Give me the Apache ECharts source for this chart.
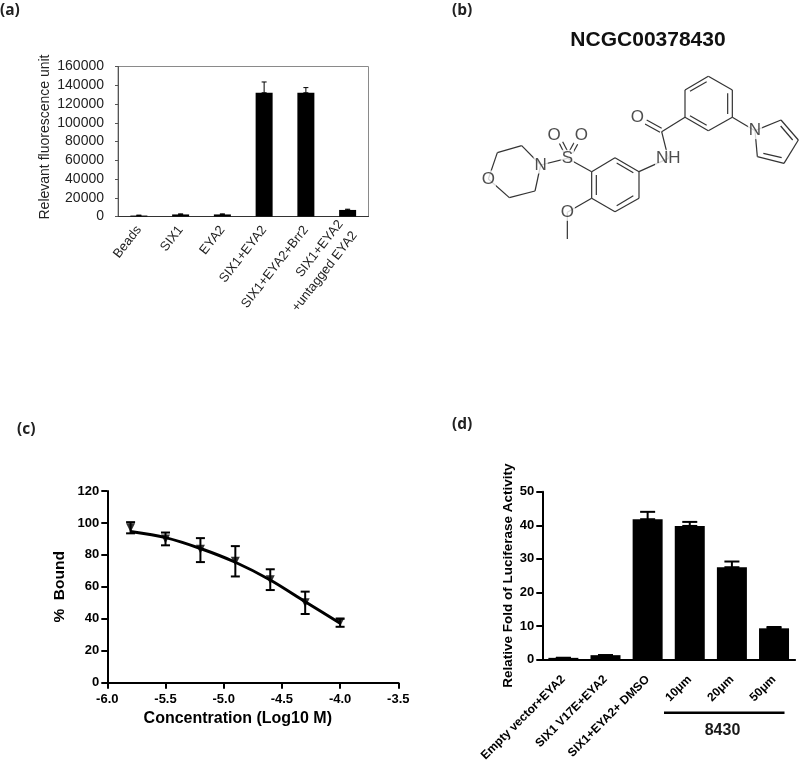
<!DOCTYPE html>
<html>
<head>
<meta charset="utf-8">
<style>
  html, body { margin: 0; padding: 0; background: #fff; }
  #main { width: 800px; height: 764px; }
</style>
<script src="https://cdn.jsdelivr.net/npm/echarts@6/dist/echarts.min.js"></script>
</head>
<body>
<div id="main"></div>
<script>
// panel a
const aCategories = ["Beads", "SIX1", "EYA2", "SIX1+EYA2", "SIX1+EYA2+Brr2", "SIX1+EYA2\n+untagged EYA2"];
const aValues = [1000, 2200, 2200, 132000, 132000, 7000];
const aErrHigh = [1500, 2800, 2800, 143500, 137500, 7800];

// panel b: structure drawn on a plain hidden grid
const atomNames = ["O", "N", "S", "O", "O", "O", "NH", "O", "N"];
const atomX = [205, 362, 442, 402, 484, 442, 745, 652, 1005];
const atomY = [537, 495, 475, 405, 405, 637, 475, 352, 392];
const bondSegments = [
  [205, 537, 232, 458], [232, 458, 305, 437], [305, 437, 362, 495],
  [362, 495, 345, 573], [345, 573, 268, 593], [268, 593, 205, 537],
  [362, 495, 442, 475],
  [418, 430, 432, 458], [428, 425, 442, 452],
  [447, 455, 462, 428], [458, 460, 473, 433],
  [442, 475, 515, 515],
  [515, 515, 585, 473], [585, 473, 657, 515], [657, 515, 657, 595],
  [657, 595, 585, 635], [585, 635, 515, 595], [515, 595, 515, 515],
  [529, 525, 529, 585], [590, 489, 640, 518], [640, 587, 590, 617],
  [515, 595, 442, 637], [442, 637, 442, 717],
  [657, 515, 745, 475], [745, 475, 725, 395],
  [680, 360, 725, 385], [675, 372, 720, 397],
  [725, 395, 795, 352],
  [795, 352, 795, 270], [795, 270, 865, 229], [865, 229, 937, 270],
  [937, 270, 937, 352], [937, 352, 865, 392], [865, 392, 795, 352],
  [810, 274, 860, 245], [923, 280, 923, 342], [860, 376, 810, 347],
  [937, 352, 1005, 392],
  [1005, 392, 1083, 360], [1083, 360, 1135, 420], [1135, 420, 1092, 490],
  [1092, 490, 1012, 470], [1012, 470, 1005, 392],
  [1082, 378, 1118, 420], [1085, 473, 1030, 460]
];

// panel c
const cConc = [-5.8, -5.5, -5.2, -4.9, -4.6, -4.3, -4.0];
const cBound = [97, 90, 83.5, 76, 64.5, 50, 38];
const cErrLow = [93.5, 86, 75.5, 66.5, 58, 43, 35];
const cErrHigh = [100.5, 94, 90.5, 85.5, 71, 57, 40];
const cFit = [94.6, 90.8, 84, 75.4, 64.3, 50.7, 37.2];

// panel d
const dCategories = ["Empty vector+EYA2", "SIX1 V17E+EYA2", "SIX1+EYA2+ DMSO", "10μm", "20μm", "50μm"];
const dValues = [0.5, 1.3, 41.8, 39.8, 27.5, 9.3];
const dErrHigh = [0.5, 1.3, 44, 41, 29.2, 9.7];

const sans = "Liberation Sans";
const ink = "#1a1a1a";
const panelFont = { fontFamily: "Open Sans", fontSize: 15.5, fontWeight: "bold", color: "#222" };

// vertical error bars with caps, x is a category index or a value
function errorBars(xIdx, yIdx, xs, lows, highs, capHalf, width) {
  return {
    type: "custom",
    xAxisIndex: xIdx,
    yAxisIndex: yIdx,
    z: 5,
    encode: { x: 0, y: [1, 2] },
    data: xs.map((x, i) => [x, lows[i], highs[i]]),
    renderItem: (params, api) => {
      const lo = api.coord([api.value(0), api.value(1)]);
      const hi = api.coord([api.value(0), api.value(2)]);
      const style = { stroke: "#000", lineWidth: width, fill: null };
      const seg = (x1, y1, x2, y2) => ({ type: "line", shape: { x1, y1, x2, y2 }, style });
      return {
        type: "group",
        children: [
          seg(lo[0], lo[1], hi[0], hi[1]),
          seg(hi[0] - capHalf, hi[1], hi[0] + capHalf, hi[1]),
          seg(lo[0] - capHalf, lo[1], lo[0] + capHalf, lo[1])
        ]
      };
    }
  };
}

const boldAxisLine = { lineStyle: { color: "#000", width: 2 } };
const boldTick = { length: 6, lineStyle: { color: "#000", width: 2 } };

const option = {
  backgroundColor: "#fff",
  animation: false,
  textStyle: { fontFamily: sans },
  title: [
    { text: "(a)", left: 0, top: 3, padding: 0, textStyle: panelFont },
    { text: "(b)", left: 452, top: 3, padding: 0, textStyle: panelFont },
    { text: "(c)", left: 17, top: 422, padding: 0, textStyle: panelFont },
    { text: "(d)", left: 452, top: 417, padding: 0, textStyle: panelFont },
    { text: "NCGC00378430", left: 648, top: 30, padding: 0, textAlign: "center", textStyle: { fontFamily: sans, fontSize: 21, fontWeight: "bold", color: "#111" } },
    { text: "8430", left: 722.5, top: 723, padding: 0, textAlign: "center", textStyle: { fontFamily: sans, fontSize: 16, fontWeight: "bold", color: ink } }
  ],
  grid: [
    { left: 118, top: 66.5, width: 250.5, height: 150, show: true, borderColor: "#8a8a8a", borderWidth: 1, backgroundColor: "transparent" },
    { left: 420, top: 0, width: 380, height: 260 },
    { left: 107.3, top: 491, width: 291, height: 191.7 },
    { left: 542.3, top: 491.7, width: 252.8, height: 168.6 }
  ],
  xAxis: [
    {
      gridIndex: 0, type: "category", data: aCategories,
      axisLine: { lineStyle: { color: "#333", width: 1 } },
      axisTick: { length: 3, lineStyle: { color: "#555" } },
      axisLabel: { interval: 0, rotate: 52, fontSize: 13, color: "#222", margin: 11, lineHeight: 18, align: "right" }
    },
    { gridIndex: 1, type: "value", min: 0, max: 1140, show: false },
    {
      gridIndex: 2, type: "value", min: -6, max: -3.5, interval: 0.5,
      name: "Concentration (Log10 M)", nameLocation: "middle", nameGap: 28,
      nameTextStyle: { fontSize: 16, fontWeight: "bold", color: "#000", padding: [0, 30, 0, 0] },
      splitLine: { show: false },
      axisLine: boldAxisLine, axisTick: boldTick,
      axisLabel: { fontSize: 13, fontWeight: "bold", color: "#000", margin: 10, formatter: (v) => v.toFixed(1) }
    },
    {
      gridIndex: 3, type: "category", data: dCategories,
      axisLine: boldAxisLine,
      axisTick: { alignWithLabel: true, length: 6, lineStyle: { color: "#000", width: 2 } },
      axisLabel: { interval: 0, rotate: 45, fontSize: 12, fontWeight: "bold", color: "#000", margin: 18, align: "right" }
    }
  ],
  yAxis: [
    {
      gridIndex: 0, type: "value", min: 0, max: 160000, interval: 20000,
      name: "Relevant fluorescence unit", nameLocation: "middle", nameGap: 66,
      nameTextStyle: { fontSize: 14, color: "#222", padding: [0, 0, 0, 9] },
      splitLine: { show: false },
      axisLine: { show: true, lineStyle: { color: "#555" } },
      axisTick: { show: true, length: 3, lineStyle: { color: "#555" } },
      axisLabel: { fontSize: 14, color: "#222", margin: 14, formatter: (v) => String(v) }
    },
    { gridIndex: 1, type: "value", min: 0, max: 780, inverse: true, show: false },
    {
      gridIndex: 2, type: "value", min: 0, max: 120, interval: 20,
      name: "%  Bound", nameLocation: "middle", nameGap: 40,
      nameTextStyle: { fontSize: 15.5, fontWeight: "bold", color: "#000" },
      splitLine: { show: false },
      axisLine: { show: true, ...boldAxisLine }, axisTick: { show: true, ...boldTick },
      axisLabel: { fontSize: 13, fontWeight: "bold", color: "#000", margin: 8 }
    },
    {
      gridIndex: 3, type: "value", min: 0, max: 50, interval: 10,
      name: "Relative Fold of Luciferase Activity", nameLocation: "middle", nameGap: 27,
      nameTextStyle: { fontSize: 13.5, fontWeight: "bold", color: "#000" },
      splitLine: { show: false },
      axisLine: { show: true, ...boldAxisLine }, axisTick: { show: true, ...boldTick },
      axisLabel: { fontSize: 13, fontWeight: "bold", color: "#000", margin: 8 }
    }
  ],
  series: [
    { type: "bar", xAxisIndex: 0, yAxisIndex: 0, data: aValues, barWidth: 17, itemStyle: { color: "#000" } },
    errorBars(0, 0, aCategories.map((c, i) => i), aValues, aErrHigh, 2.5, 1),
    {
      type: "custom", xAxisIndex: 1, yAxisIndex: 1, data: bondSegments,
      encode: { x: [0, 2], y: [1, 3] },
      renderItem: (params, api) => {
        const p1 = api.coord([api.value(0), api.value(1)]);
        const p2 = api.coord([api.value(2), api.value(3)]);
        return {
          type: "line",
          shape: { x1: p1[0], y1: p1[1], x2: p2[0], y2: p2[1] },
          style: { stroke: "#333", lineWidth: 1.2, fill: null }
        };
      }
    },
    {
      type: "scatter", xAxisIndex: 1, yAxisIndex: 1, z: 6, symbolSize: 0,
      data: atomNames.map((n, i) => [atomX[i], atomY[i], n]),
      label: {
        show: true, position: "inside", fontSize: 17, color: "#222",
        backgroundColor: "#fff", padding: [0, 1],
        formatter: (p) => p.value[2]
      }
    },
    {
      type: "line", xAxisIndex: 2, yAxisIndex: 2, data: cConc.map((x, i) => [x, cFit[i]]),
      smooth: 0.3, showSymbol: false, z: 4, lineStyle: { color: "#000", width: 3 }
    },
    {
      type: "scatter", xAxisIndex: 2, yAxisIndex: 2, z: 6, data: cConc.map((x, i) => [x, cBound[i]]),
      symbol: "triangle", symbolRotate: 180, symbolSize: 9, itemStyle: { color: "#000" }
    },
    errorBars(2, 2, cConc, cErrLow, cErrHigh, 4.5, 2),
    { type: "bar", xAxisIndex: 3, yAxisIndex: 3, data: dValues, barWidth: 30, itemStyle: { color: "#000" } },
    errorBars(3, 3, dCategories.map((c, i) => i), dValues, dErrHigh, 7.5, 2)
  ],
  graphic: [
    { type: "line", shape: { x1: 664, y1: 712.7, x2: 784.5, y2: 712.7 }, style: { stroke: "#000", lineWidth: 2.5 } }
  ]
};

const chart = echarts.init(document.getElementById("main"));
chart.setOption(option);
</script>
</body>
</html>
